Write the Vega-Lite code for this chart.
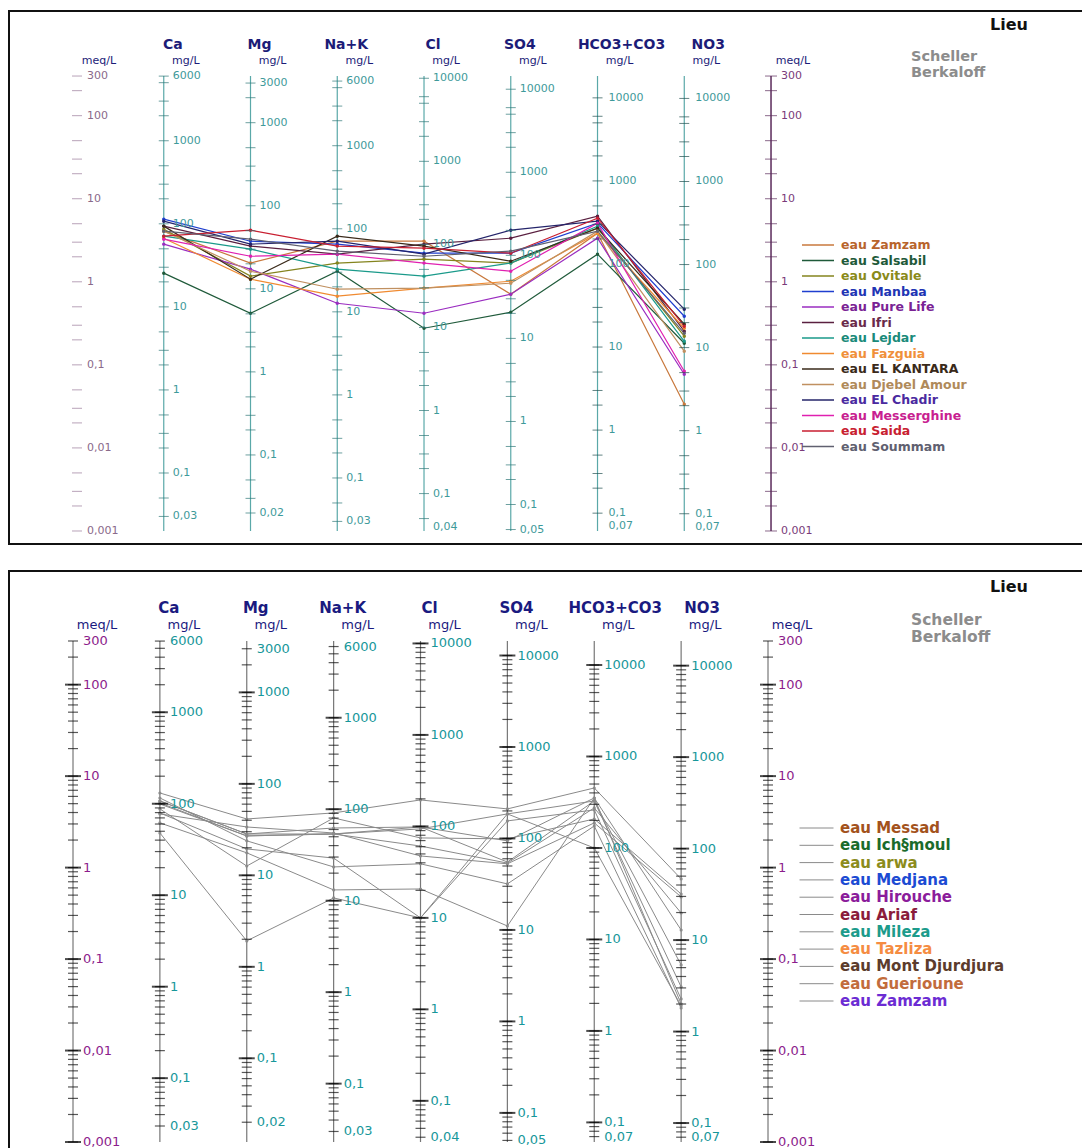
{
"$schema":"https://vega.github.io/schema/vega-lite/v6.json",
"padding":{"left":8,"top":10,"right":0,"bottom":0},
"autosize":{"type":"pad"},
"background":"white",
"spacing":27,
"bounds":"flush",
"config":{"text":{"font":"DejaVu Sans"}},
"datasets":{
"axes":[{"ax":"Ca"},{"ax":"Mg"},{"ax":"Na+K"},{"ax":"Cl"},{"ax":"SO4"},{"ax":"HCO3+CO3"},{"ax":"NO3"}],
"units":[{"ax":"meqL","t":"meq/L"},{"ax":"Ca","t":"mg/L"},{"ax":"Mg","t":"mg/L"},{"ax":"Na+K","t":"mg/L"},{"ax":"Cl","t":"mg/L"},{"ax":"SO4","t":"mg/L"},{"ax":"HCO3+CO3","t":"mg/L"},{"ax":"NO3","t":"mg/L"},{"ax":"meqR","t":"meq/L"}],
"tT":[{"v":0.001},{"v":0.002},{"v":0.003},{"v":0.005},{"v":0.01},{"v":0.02},{"v":0.03},{"v":0.05},{"v":0.1},{"v":0.2},{"v":0.3},{"v":0.5},{"v":1},{"v":2},{"v":3},{"v":5},{"v":10},{"v":20},{"v":30},{"v":50},{"v":100},{"v":200},{"v":300},{"v":500},{"v":1000},{"v":2000},{"v":3000},{"v":5000},{"v":6000},{"v":10000}],
"tB":[{"v":0.001},{"v":0.002},{"v":0.003},{"v":0.004},{"v":0.005},{"v":0.006},{"v":0.007},{"v":0.008},{"v":0.009},{"v":0.01},{"v":0.02},{"v":0.03},{"v":0.04},{"v":0.05},{"v":0.06},{"v":0.07},{"v":0.08},{"v":0.09},{"v":0.1},{"v":0.2},{"v":0.3},{"v":0.4},{"v":0.5},{"v":0.6},{"v":0.7},{"v":0.8},{"v":0.9},{"v":1},{"v":2},{"v":3},{"v":4},{"v":5},{"v":6},{"v":7},{"v":8},{"v":9},{"v":10},{"v":20},{"v":30},{"v":40},{"v":50},{"v":60},{"v":70},{"v":80},{"v":90},{"v":100},{"v":200},{"v":300},{"v":400},{"v":500},{"v":600},{"v":700},{"v":800},{"v":900},{"v":1000},{"v":2000},{"v":3000},{"v":4000},{"v":5000},{"v":6000},{"v":7000},{"v":8000},{"v":9000},{"v":10000}],
"tD":[{"v":0.001},{"v":0.01},{"v":0.1},{"v":1},{"v":10},{"v":100},{"v":1000},{"v":10000}],
"lab":[
{"ax":"meq","v":300,"t":"300"},{"ax":"meq","v":100,"t":"100"},{"ax":"meq","v":10,"t":"10"},{"ax":"meq","v":1,"t":"1"},{"ax":"meq","v":0.1,"t":"0,1"},{"ax":"meq","v":0.01,"t":"0,01"},{"ax":"meq","v":0.001,"t":"0,001"},
{"ax":"Ca","v":6000,"t":"6000"},{"ax":"Ca","v":1000,"t":"1000"},{"ax":"Ca","v":100,"t":"100"},{"ax":"Ca","v":10,"t":"10"},{"ax":"Ca","v":1,"t":"1"},{"ax":"Ca","v":0.1,"t":"0,1"},{"ax":"Ca","v":0.03,"t":"0,03"},
{"ax":"Mg","v":3000,"t":"3000"},{"ax":"Mg","v":1000,"t":"1000"},{"ax":"Mg","v":100,"t":"100"},{"ax":"Mg","v":10,"t":"10"},{"ax":"Mg","v":1,"t":"1"},{"ax":"Mg","v":0.1,"t":"0,1"},{"ax":"Mg","v":0.02,"t":"0,02"},
{"ax":"Na+K","v":6000,"t":"6000"},{"ax":"Na+K","v":1000,"t":"1000"},{"ax":"Na+K","v":100,"t":"100"},{"ax":"Na+K","v":10,"t":"10"},{"ax":"Na+K","v":1,"t":"1"},{"ax":"Na+K","v":0.1,"t":"0,1"},{"ax":"Na+K","v":0.03,"t":"0,03"},
{"ax":"Cl","v":10000,"t":"10000"},{"ax":"Cl","v":1000,"t":"1000"},{"ax":"Cl","v":100,"t":"100"},{"ax":"Cl","v":10,"t":"10"},{"ax":"Cl","v":1,"t":"1"},{"ax":"Cl","v":0.1,"t":"0,1"},{"ax":"Cl","v":0.04,"t":"0,04"},
{"ax":"SO4","v":10000,"t":"10000"},{"ax":"SO4","v":1000,"t":"1000"},{"ax":"SO4","v":100,"t":"100"},{"ax":"SO4","v":10,"t":"10"},{"ax":"SO4","v":1,"t":"1"},{"ax":"SO4","v":0.1,"t":"0,1"},{"ax":"SO4","v":0.05,"t":"0,05"},
{"ax":"HCO3+CO3","v":10000,"t":"10000"},{"ax":"HCO3+CO3","v":1000,"t":"1000"},{"ax":"HCO3+CO3","v":100,"t":"100"},{"ax":"HCO3+CO3","v":10,"t":"10"},{"ax":"HCO3+CO3","v":1,"t":"1"},{"ax":"HCO3+CO3","v":0.1,"t":"0,1"},{"ax":"HCO3+CO3","v":0.07,"t":"0,07"},
{"ax":"NO3","v":10000,"t":"10000"},{"ax":"NO3","v":1000,"t":"1000"},{"ax":"NO3","v":100,"t":"100"},{"ax":"NO3","v":10,"t":"10"},{"ax":"NO3","v":1,"t":"1"},{"ax":"NO3","v":0.1,"t":"0,1"},{"ax":"NO3","v":0.07,"t":"0,07"}],
"top":[
{"s":"eau Zamzam","ax":"Ca","v":4.07},{"s":"eau Zamzam","ax":"Mg","v":1.68},{"s":"eau Zamzam","ax":"Na+K","v":3.08},{"s":"eau Zamzam","ax":"Cl","v":3.08},{"s":"eau Zamzam","ax":"SO4","v":0.709},{"s":"eau Zamzam","ax":"HCO3+CO3","v":3.85},{"s":"eau Zamzam","ax":"NO3","v":0.0335},
{"s":"eau Salsabil","ax":"Ca","v":1.27},{"s":"eau Salsabil","ax":"Mg","v":0.418},{"s":"eau Salsabil","ax":"Na+K","v":1.34},{"s":"eau Salsabil","ax":"Cl","v":0.276},{"s":"eau Salsabil","ax":"SO4","v":0.43},{"s":"eau Salsabil","ax":"HCO3+CO3","v":2.15},{"s":"eau Salsabil","ax":"NO3","v":0.182},
{"s":"eau Ovitale","ax":"Ca","v":4.3},{"s":"eau Ovitale","ax":"Mg","v":1.17},{"s":"eau Ovitale","ax":"Na+K","v":1.68},{"s":"eau Ovitale","ax":"Cl","v":1.87},{"s":"eau Ovitale","ax":"SO4","v":1.68},{"s":"eau Ovitale","ax":"HCO3+CO3","v":4.42},{"s":"eau Ovitale","ax":"NO3","v":0.221},
{"s":"eau Manbaa","ax":"Ca","v":5.68},{"s":"eau Manbaa","ax":"Mg","v":3.08},{"s":"eau Manbaa","ax":"Na+K","v":2.84},{"s":"eau Manbaa","ax":"Cl","v":2.21},{"s":"eau Manbaa","ax":"SO4","v":2.21},{"s":"eau Manbaa","ax":"HCO3+CO3","v":5.08},{"s":"eau Manbaa","ax":"NO3","v":0.385},
{"s":"eau Pure Life","ax":"Ca","v":2.84},{"s":"eau Pure Life","ax":"Mg","v":1.42},{"s":"eau Pure Life","ax":"Na+K","v":0.552},{"s":"eau Pure Life","ax":"Cl","v":0.418},{"s":"eau Pure Life","ax":"SO4","v":0.709},{"s":"eau Pure Life","ax":"HCO3+CO3","v":3.35},{"s":"eau Pure Life","ax":"NO3","v":0.077},
{"s":"eau Ifri","ax":"Ca","v":4.68},{"s":"eau Ifri","ax":"Mg","v":2.69},{"s":"eau Ifri","ax":"Na+K","v":2.15},{"s":"eau Ifri","ax":"Cl","v":2.84},{"s":"eau Ifri","ax":"SO4","v":3.35},{"s":"eau Ifri","ax":"HCO3+CO3","v":6.17},{"s":"eau Ifri","ax":"NO3","v":0.254},
{"s":"eau Lejdar","ax":"Ca","v":3.54},{"s":"eau Lejdar","ax":"Mg","v":2.47},{"s":"eau Lejdar","ax":"Na+K","v":1.42},{"s":"eau Lejdar","ax":"Cl","v":1.17},{"s":"eau Lejdar","ax":"SO4","v":1.68},{"s":"eau Lejdar","ax":"HCO3+CO3","v":4.68},{"s":"eau Lejdar","ax":"NO3","v":0.192},
{"s":"eau Fazguia","ax":"Ca","v":3.35},{"s":"eau Fazguia","ax":"Mg","v":1.075},{"s":"eau Fazguia","ax":"Na+K","v":0.671},{"s":"eau Fazguia","ax":"Cl","v":0.837},{"s":"eau Fazguia","ax":"SO4","v":1.017},{"s":"eau Fazguia","ax":"HCO3+CO3","v":3.85},{"s":"eau Fazguia","ax":"NO3","v":0.276},
{"s":"eau EL KANTARA","ax":"Ca","v":4.68},{"s":"eau EL KANTARA","ax":"Mg","v":1.075},{"s":"eau EL KANTARA","ax":"Na+K","v":3.54},{"s":"eau EL KANTARA","ax":"Cl","v":2.69},{"s":"eau EL KANTARA","ax":"SO4","v":1.77},{"s":"eau EL KANTARA","ax":"HCO3+CO3","v":4.42},{"s":"eau EL KANTARA","ax":"NO3","v":0.308},
{"s":"eau Djebel Amour","ax":"Ca","v":4.07},{"s":"eau Djebel Amour","ax":"Mg","v":1.34},{"s":"eau Djebel Amour","ax":"Na+K","v":0.814},{"s":"eau Djebel Amour","ax":"Cl","v":0.837},{"s":"eau Djebel Amour","ax":"SO4","v":0.962},{"s":"eau Djebel Amour","ax":"HCO3+CO3","v":4.07},{"s":"eau Djebel Amour","ax":"NO3","v":0.146},
{"s":"eau EL Chadir","ax":"Ca","v":5.37},{"s":"eau EL Chadir","ax":"Mg","v":2.84},{"s":"eau EL Chadir","ax":"Na+K","v":3.08},{"s":"eau EL Chadir","ax":"Cl","v":2.15},{"s":"eau EL Chadir","ax":"SO4","v":4.18},{"s":"eau EL Chadir","ax":"HCO3+CO3","v":5.37},{"s":"eau EL Chadir","ax":"NO3","v":0.468},
{"s":"eau Messerghine","ax":"Ca","v":3.26},{"s":"eau Messerghine","ax":"Mg","v":2.03},{"s":"eau Messerghine","ax":"Na+K","v":2.15},{"s":"eau Messerghine","ax":"Cl","v":1.68},{"s":"eau Messerghine","ax":"SO4","v":1.34},{"s":"eau Messerghine","ax":"HCO3+CO3","v":5.08},{"s":"eau Messerghine","ax":"NO3","v":0.0837},
{"s":"eau Saida","ax":"Ca","v":3.54},{"s":"eau Saida","ax":"Mg","v":4.18},{"s":"eau Saida","ax":"Na+K","v":2.69},{"s":"eau Saida","ax":"Cl","v":2.54},{"s":"eau Saida","ax":"SO4","v":2.21},{"s":"eau Saida","ax":"HCO3+CO3","v":5.84},{"s":"eau Saida","ax":"NO3","v":0.292},
{"s":"eau Soummam","ax":"Ca","v":4.07},{"s":"eau Soummam","ax":"Mg","v":3.26},{"s":"eau Soummam","ax":"Na+K","v":2.34},{"s":"eau Soummam","ax":"Cl","v":2.03},{"s":"eau Soummam","ax":"SO4","v":2.34},{"s":"eau Soummam","ax":"HCO3+CO3","v":4.07},{"s":"eau Soummam","ax":"NO3","v":0.24}],
"bot":[
{"s":"eau Messad","ax":"Ca","v":6.54},{"s":"eau Messad","ax":"Mg","v":3.4},{"s":"eau Messad","ax":"Na+K","v":3.96},{"s":"eau Messad","ax":"Cl","v":5.49},{"s":"eau Messad","ax":"SO4","v":4.38},{"s":"eau Messad","ax":"HCO3+CO3","v":7.42},{"s":"eau Messad","ax":"NO3","v":0.752},
{"s":"eau Ich§moul","ax":"Ca","v":2.39},{"s":"eau Ich§moul","ax":"Mg","v":0.158},{"s":"eau Ich§moul","ax":"Na+K","v":0.466},{"s":"eau Ich§moul","ax":"Cl","v":0.282},{"s":"eau Ich§moul","ax":"SO4","v":3.86},{"s":"eau Ich§moul","ax":"HCO3+CO3","v":5.35},{"s":"eau Ich§moul","ax":"NO3","v":0.0863},
{"s":"eau arwa","ax":"Ca","v":5.35},{"s":"eau arwa","ax":"Mg","v":2.33},{"s":"eau arwa","ax":"Na+K","v":2.71},{"s":"eau arwa","ax":"Cl","v":2.78},{"s":"eau arwa","ax":"SO4","v":1.96},{"s":"eau arwa","ax":"HCO3+CO3","v":5.77},{"s":"eau arwa","ax":"NO3","v":0.208},
{"s":"eau Medjana","ax":"Ca","v":4.96},{"s":"eau Medjana","ax":"Mg","v":2.22},{"s":"eau Medjana","ax":"Na+K","v":2.33},{"s":"eau Medjana","ax":"Cl","v":1.72},{"s":"eau Medjana","ax":"SO4","v":1.12},{"s":"eau Medjana","ax":"HCO3+CO3","v":4.49},{"s":"eau Medjana","ax":"NO3","v":0.319},
{"s":"eau Hirouche","ax":"Ca","v":4.38},{"s":"eau Hirouche","ax":"Mg","v":1.04},{"s":"eau Hirouche","ax":"Na+K","v":3.49},{"s":"eau Hirouche","ax":"Cl","v":2.11},{"s":"eau Hirouche","ax":"SO4","v":2.06},{"s":"eau Hirouche","ax":"HCO3+CO3","v":3.4},{"s":"eau Hirouche","ax":"NO3","v":0.515},
{"s":"eau  Ariaf","ax":"Ca","v":3.96},{"s":"eau  Ariaf","ax":"Mg","v":1.6},{"s":"eau  Ariaf","ax":"Na+K","v":1.27},{"s":"eau  Ariaf","ax":"Cl","v":0.282},{"s":"eau  Ariaf","ax":"SO4","v":3.24},{"s":"eau  Ariaf","ax":"HCO3+CO3","v":4.27},{"s":"eau  Ariaf","ax":"NO3","v":0.0367},
{"s":"eau Mileza","ax":"Ca","v":3.86},{"s":"eau Mileza","ax":"Mg","v":2.78},{"s":"eau Mileza","ax":"Na+K","v":2.39},{"s":"eau Mileza","ax":"Cl","v":1.34},{"s":"eau Mileza","ax":"SO4","v":1.1},{"s":"eau Mileza","ax":"HCO3+CO3","v":3.08},{"s":"eau Mileza","ax":"NO3","v":0.478},
{"s":"eau Tazliza","ax":"Ca","v":5.77},{"s":"eau Tazliza","ax":"Mg","v":1.96},{"s":"eau Tazliza","ax":"Na+K","v":1.017},{"s":"eau Tazliza","ax":"Cl","v":1.1},{"s":"eau Tazliza","ax":"SO4","v":0.663},{"s":"eau Tazliza","ax":"HCO3+CO3","v":2.85},{"s":"eau Tazliza","ax":"NO3","v":0.0292},
{"s":"eau Mont Djurdjura","ax":"Ca","v":5.09},{"s":"eau Mont Djurdjura","ax":"Mg","v":2.22},{"s":"eau Mont Djurdjura","ax":"Na+K","v":2.33},{"s":"eau Mont Djurdjura","ax":"Cl","v":2.78},{"s":"eau Mont Djurdjura","ax":"SO4","v":1.15},{"s":"eau Mont Djurdjura","ax":"HCO3+CO3","v":5.35},{"s":"eau Mont Djurdjura","ax":"NO3","v":0.0496},
{"s":"eau Guerioune","ax":"Ca","v":3.08},{"s":"eau Guerioune","ax":"Mg","v":1.45},{"s":"eau Guerioune","ax":"Na+K","v":0.57},{"s":"eau Guerioune","ax":"Cl","v":0.584},{"s":"eau Guerioune","ax":"SO4","v":0.23},{"s":"eau Guerioune","ax":"HCO3+CO3","v":5.77},{"s":"eau Guerioune","ax":"NO3","v":0.0324},
{"s":"eau Zamzam","ax":"Ca","v":5.35},{"s":"eau Zamzam","ax":"Mg","v":2.33},{"s":"eau Zamzam","ax":"Na+K","v":2.33},{"s":"eau Zamzam","ax":"Cl","v":2.65},{"s":"eau Zamzam","ax":"SO4","v":3.86},{"s":"eau Zamzam","ax":"HCO3+CO3","v":1.64},{"s":"eau Zamzam","ax":"NO3","v":0.0308}]
},
"resolve":{"scale":{"color":"independent","x":"independent","y":"independent"},"legend":{"color":"independent"}},
"vconcat":[
{
"width":1074,"height":533,
"view":{"stroke":"#111","strokeWidth":2},
"resolve":{"scale":{"y":"independent"}},
"layer":[
{"layer":[
{"data":{"name":"axes"},"mark":{"type":"rule","color":"#5aa8a8","strokeWidth":1.2},"encoding":{"x":{"field":"ax","type":"ordinal","axis":null,"scale":{"type":"point","domain":["meqL","Ca","Mg","Na+K","Cl","SO4","HCO3+CO3","NO3","meqR","r1","r2","r3"],"padding":0.69,"align":0.568}},"y":{"datum":300,"type":"quantitative","axis":null,"scale":{"type":"log","domain":[0.000697,1820],"nice":false}},"y2":{"datum":0.001}}},
{"data":{"values":[{"ax":"meqR"}]},"mark":{"type":"rule","color":"#5a2a5a","strokeWidth":1.5},"encoding":{"x":{"field":"ax","type":"ordinal","axis":null,"scale":{"type":"point","domain":["meqL","Ca","Mg","Na+K","Cl","SO4","HCO3+CO3","NO3","meqR","r1","r2","r3"],"padding":0.69,"align":0.568}},"y":{"datum":300,"type":"quantitative","axis":null,"scale":{"type":"log","domain":[0.000697,1820],"nice":false}},"y2":{"datum":0.001}}},
{"data":{"name":"tT"},"transform":[{"filter":{"field":"v","range":[0.001,300]}}],"mark":{"type":"tick","orient":"horizontal","color":"#9a7a9a","size":10,"thickness":1},"encoding":{"x":{"datum":"meqL","type":"ordinal","axis":null,"scale":{"type":"point","domain":["meqL","Ca","Mg","Na+K","Cl","SO4","HCO3+CO3","NO3","meqR","r1","r2","r3"],"padding":0.69,"align":0.568}},"y":{"field":"v","type":"quantitative","axis":null,"scale":{"type":"log","domain":[0.000697,1820],"nice":false}}}},
{"data":{"name":"tT"},"transform":[{"filter":{"field":"v","range":[0.001,300]}}],"mark":{"type":"tick","orient":"horizontal","color":"#5a2a5a","size":12,"thickness":1},"encoding":{"x":{"datum":"meqR","type":"ordinal","axis":null,"scale":{"type":"point","domain":["meqL","Ca","Mg","Na+K","Cl","SO4","HCO3+CO3","NO3","meqR","r1","r2","r3"],"padding":0.69,"align":0.568}},"y":{"field":"v","type":"quantitative","axis":null,"scale":{"type":"log","domain":[0.000697,1820],"nice":false}}}},
{"data":{"name":"lab"},"transform":[{"filter":"datum.ax=='meq'"}],"mark":{"type":"text","align":"left","baseline":"middle","dx":10,"fontSize":11,"color":"#8a6a8a"},"encoding":{"x":{"datum":"meqL","type":"ordinal","axis":null,"scale":{"type":"point","domain":["meqL","Ca","Mg","Na+K","Cl","SO4","HCO3+CO3","NO3","meqR","r1","r2","r3"],"padding":0.69,"align":0.568}},"y":{"field":"v","type":"quantitative","axis":null,"scale":{"type":"log","domain":[0.000697,1820],"nice":false}},"text":{"field":"t"}}},
{"data":{"name":"lab"},"transform":[{"filter":"datum.ax=='meq'"}],"mark":{"type":"text","align":"left","baseline":"middle","dx":10,"fontSize":11,"color":"#7a3a7a"},"encoding":{"x":{"datum":"meqR","type":"ordinal","axis":null,"scale":{"type":"point","domain":["meqL","Ca","Mg","Na+K","Cl","SO4","HCO3+CO3","NO3","meqR","r1","r2","r3"],"padding":0.69,"align":0.568}},"y":{"field":"v","type":"quantitative","axis":null,"scale":{"type":"log","domain":[0.000697,1820],"nice":false}},"text":{"field":"t"}}},
{"data":{"name":"axes"},"transform":[{"filter":"datum.ax!='HCO3+CO3' && datum.ax!='NO3'"}],"mark":{"type":"text","align":"center","baseline":"middle","dx":9,"fontSize":14,"fontWeight":"bold","color":"#1c1c78"},"encoding":{"x":{"field":"ax","type":"ordinal","axis":null,"scale":{"type":"point","domain":["meqL","Ca","Mg","Na+K","Cl","SO4","HCO3+CO3","NO3","meqR","r1","r2","r3"],"padding":0.69,"align":0.568}},"y":{"datum":709,"type":"quantitative","axis":null,"scale":{"type":"log","domain":[0.000697,1820],"nice":false}},"text":{"field":"ax"}}},
{"data":{"name":"axes"},"transform":[{"filter":"datum.ax=='HCO3+CO3' || datum.ax=='NO3'"}],"mark":{"type":"text","align":"center","baseline":"middle","dx":24,"fontSize":14,"fontWeight":"bold","color":"#1c1c78"},"encoding":{"x":{"field":"ax","type":"ordinal","axis":null,"scale":{"type":"point","domain":["meqL","Ca","Mg","Na+K","Cl","SO4","HCO3+CO3","NO3","meqR","r1","r2","r3"],"padding":0.69,"align":0.568}},"y":{"datum":709,"type":"quantitative","axis":null,"scale":{"type":"log","domain":[0.000697,1820],"nice":false}},"text":{"field":"ax"}}},
{"data":{"name":"units"},"mark":{"type":"text","align":"center","baseline":"middle","dx":22,"fontSize":11,"color":"#1c1c78"},"encoding":{"x":{"field":"ax","type":"ordinal","axis":null,"scale":{"type":"point","domain":["meqL","Ca","Mg","Na+K","Cl","SO4","HCO3+CO3","NO3","meqR","r1","r2","r3"],"padding":0.69,"align":0.568}},"y":{"datum":455,"type":"quantitative","axis":null,"scale":{"type":"log","domain":[0.000697,1820],"nice":false}},"text":{"field":"t"}}},
{"data":{"values":[{"ax":"meqR"}]},"mark":{"type":"text","text":"Lieu","align":"center","baseline":"middle","dx":238,"fontSize":16,"fontWeight":"bold","color":"#111111"},"encoding":{"x":{"field":"ax","type":"ordinal","axis":null,"scale":{"type":"point","domain":["meqL","Ca","Mg","Na+K","Cl","SO4","HCO3+CO3","NO3","meqR","r1","r2","r3"],"padding":0.69,"align":0.568}},"y":{"datum":1234,"type":"quantitative","axis":null,"scale":{"type":"log","domain":[0.000697,1820],"nice":false}}}},
{"data":{"values":[{"ax":"meqR"}]},"mark":{"type":"text","text":["Scheller","Berkaloff"],"lineHeight":16,"align":"left","baseline":"top","dx":140,"fontSize":14.5,"fontWeight":"bold","color":"#8c8c8c"},"encoding":{"x":{"field":"ax","type":"ordinal","axis":null,"scale":{"type":"point","domain":["meqL","Ca","Mg","Na+K","Cl","SO4","HCO3+CO3","NO3","meqR","r1","r2","r3"],"padding":0.69,"align":0.568}},"y":{"datum":620,"type":"quantitative","axis":null,"scale":{"type":"log","domain":[0.000697,1820],"nice":false}}}},
{"data":{"name":"top"},"mark":{"type":"line","strokeWidth":1.2,"point":{"size":12,"filled":true}},"encoding":{"x":{"field":"ax","type":"ordinal","axis":null,"scale":{"type":"point","domain":["meqL","Ca","Mg","Na+K","Cl","SO4","HCO3+CO3","NO3","meqR","r1","r2","r3"],"padding":0.69,"align":0.568}},"y":{"field":"v","type":"quantitative","axis":null,"scale":{"type":"log","domain":[0.000697,1820],"nice":false}},"order":{"value":null},"color":{"field":"s","type":"nominal","scale":{"domain":["eau Zamzam","eau Salsabil","eau Ovitale","eau Manbaa","eau Pure Life","eau Ifri","eau Lejdar","eau Fazguia","eau EL KANTARA","eau Djebel Amour","eau EL Chadir","eau Messerghine","eau Saida","eau Soummam"],"range":["#c8783c","#1f5a3a","#84841e","#1f3fcf","#9a2cc0","#5a2040","#1a9a8a","#f08a30","#3a2a1a","#c09060","#24246a","#e020b0","#c81e30","#606070"]},"legend":{"orient":"none","legendX":792,"legendY":228,"title":null,"padding":0,"symbolType":"stroke","symbolSize":1024,"symbolStrokeWidth":1.5,"clipHeight":12,"rowPadding":2.5,"labelOffset":6,"labelFont":"DejaVu Sans","labelFontWeight":"bold","labelFontSize":12.5,"labelLimit":400,"labelColor":{"expr":"['#b8642c','#1f5a3a','#8a8a1a','#2034b4','#7a2294','#6a2a4a','#1a8a7a','#f0903a','#3a2a1a','#b08a5a','#4a2aa0','#c82090','#c82030','#606070'][indexof(['eau Zamzam','eau Salsabil','eau Ovitale','eau Manbaa','eau Pure Life','eau Ifri','eau Lejdar','eau Fazguia','eau EL KANTARA','eau Djebel Amour','eau EL Chadir','eau Messerghine','eau Saida','eau Soummam'], datum.value)]"}}}}}
]},
{"encoding":{"x":{"datum":"Ca","type":"ordinal","axis":null,"scale":{"type":"point","domain":["meqL","Ca","Mg","Na+K","Cl","SO4","HCO3+CO3","NO3","meqR","r1","r2","r3"],"padding":0.69,"align":0.568}},"y":{"field":"v","type":"quantitative","axis":null,"scale":{"type":"log","domain":[0.01397,36473],"nice":false}}},"layer":[
{"data":{"name":"tT"},"transform":[{"filter":{"field":"v","range":[0.03,6000]}}],"mark":{"type":"tick","orient":"horizontal","color":"#2f7878","size":10,"thickness":1}},
{"data":{"name":"lab"},"transform":[{"filter":"datum.ax=='Ca'"}],"mark":{"type":"text","align":"left","baseline":"middle","dx":9,"fontSize":11,"color":"#3e9a9a"},"encoding":{"text":{"field":"t"}}}]},
{"encoding":{"x":{"datum":"Mg","type":"ordinal","axis":null,"scale":{"type":"point","domain":["meqL","Ca","Mg","Na+K","Cl","SO4","HCO3+CO3","NO3","meqR","r1","r2","r3"],"padding":0.69,"align":0.568}},"y":{"field":"v","type":"quantitative","axis":null,"scale":{"type":"log","domain":[0.008469,22113],"nice":false}}},"layer":[
{"data":{"name":"tT"},"transform":[{"filter":{"field":"v","range":[0.02,3000]}}],"mark":{"type":"tick","orient":"horizontal","color":"#2f7878","size":10,"thickness":1}},
{"data":{"name":"lab"},"transform":[{"filter":"datum.ax=='Mg'"}],"mark":{"type":"text","align":"left","baseline":"middle","dx":9,"fontSize":11,"color":"#3e9a9a"},"encoding":{"text":{"field":"t"}}}]},
{"encoding":{"x":{"datum":"Na+K","type":"ordinal","axis":null,"scale":{"type":"point","domain":["meqL","Ca","Mg","Na+K","Cl","SO4","HCO3+CO3","NO3","meqR","r1","r2","r3"],"padding":0.69,"align":0.568}},"y":{"field":"v","type":"quantitative","axis":null,"scale":{"type":"log","domain":[0.01603,41860],"nice":false}}},"layer":[
{"data":{"name":"tT"},"transform":[{"filter":{"field":"v","range":[0.03,6000]}}],"mark":{"type":"tick","orient":"horizontal","color":"#2f7878","size":10,"thickness":1}},
{"data":{"name":"lab"},"transform":[{"filter":"datum.ax=='Na+K'"}],"mark":{"type":"text","align":"left","baseline":"middle","dx":9,"fontSize":11,"color":"#3e9a9a"},"encoding":{"text":{"field":"t"}}}]},
{"encoding":{"x":{"datum":"Cl","type":"ordinal","axis":null,"scale":{"type":"point","domain":["meqL","Ca","Mg","Na+K","Cl","SO4","HCO3+CO3","NO3","meqR","r1","r2","r3"],"padding":0.69,"align":0.568}},"y":{"field":"v","type":"quantitative","axis":null,"scale":{"type":"log","domain":[0.02471,64519],"nice":false}}},"layer":[
{"data":{"name":"tT"},"transform":[{"filter":{"field":"v","range":[0.04,10000]}}],"mark":{"type":"tick","orient":"horizontal","color":"#2f7878","size":10,"thickness":1}},
{"data":{"name":"lab"},"transform":[{"filter":"datum.ax=='Cl'"}],"mark":{"type":"text","align":"left","baseline":"middle","dx":9,"fontSize":11,"color":"#3e9a9a"},"encoding":{"text":{"field":"t"}}}]},
{"encoding":{"x":{"datum":"SO4","type":"ordinal","axis":null,"scale":{"type":"point","domain":["meqL","Ca","Mg","Na+K","Cl","SO4","HCO3+CO3","NO3","meqR","r1","r2","r3"],"padding":0.69,"align":0.568}},"y":{"field":"v","type":"quantitative","axis":null,"scale":{"type":"log","domain":[0.03348,87415],"nice":false}}},"layer":[
{"data":{"name":"tT"},"transform":[{"filter":{"field":"v","range":[0.05,10000]}}],"mark":{"type":"tick","orient":"horizontal","color":"#2f7878","size":10,"thickness":1}},
{"data":{"name":"lab"},"transform":[{"filter":"datum.ax=='SO4'"}],"mark":{"type":"text","align":"left","baseline":"middle","dx":9,"fontSize":11,"color":"#3e9a9a"},"encoding":{"text":{"field":"t"}}}]},
{"encoding":{"x":{"datum":"HCO3+CO3","type":"ordinal","axis":null,"scale":{"type":"point","domain":["meqL","Ca","Mg","Na+K","Cl","SO4","HCO3+CO3","NO3","meqR","r1","r2","r3"],"padding":0.69,"align":0.568}},"y":{"field":"v","type":"quantitative","axis":null,"scale":{"type":"log","domain":[0.04253,111056],"nice":false}}},"layer":[
{"data":{"name":"tT"},"transform":[{"filter":{"field":"v","range":[0.07,10000]}}],"mark":{"type":"tick","orient":"horizontal","color":"#1f4f4f","size":10,"thickness":1}},
{"data":{"name":"lab"},"transform":[{"filter":"datum.ax=='HCO3+CO3'"}],"mark":{"type":"text","align":"left","baseline":"middle","dx":11,"fontSize":11,"color":"#3e9a9a"},"encoding":{"text":{"field":"t"}}}]},
{"encoding":{"x":{"datum":"NO3","type":"ordinal","axis":null,"scale":{"type":"point","domain":["meqL","Ca","Mg","Na+K","Cl","SO4","HCO3+CO3","NO3","meqR","r1","r2","r3"],"padding":0.69,"align":0.568}},"y":{"field":"v","type":"quantitative","axis":null,"scale":{"type":"log","domain":[0.04321,112840],"nice":false}}},"layer":[
{"data":{"name":"tT"},"transform":[{"filter":{"field":"v","range":[0.07,10000]}}],"mark":{"type":"tick","orient":"horizontal","color":"#1f4f4f","size":10,"thickness":1}},
{"data":{"name":"lab"},"transform":[{"filter":"datum.ax=='NO3'"}],"mark":{"type":"text","align":"left","baseline":"middle","dx":11,"fontSize":11,"color":"#3e9a9a"},"encoding":{"text":{"field":"t"}}}]}
]
},
{
"width":1074,"height":578,
"view":{"stroke":"#111","strokeWidth":2},
"resolve":{"scale":{"y":"independent"}},
"layer":[
{"layer":[
{"data":{"name":"axes"},"mark":{"type":"rule","color":"#777777","strokeWidth":1.2},"encoding":{"x":{"field":"ax","type":"ordinal","axis":null,"scale":{"type":"point","domain":["meqL","Ca","Mg","Na+K","Cl","SO4","HCO3+CO3","NO3","meqR","r1","r2","r3"],"padding":0.6813,"align":0.5407}},"y":{"datum":300,"type":"quantitative","axis":null,"scale":{"type":"log","domain":[0.000839,1746.9],"nice":false}},"y2":{"datum":0.001}}},
{"data":{"values":[{"ax":"meqL"},{"ax":"meqR"}]},"mark":{"type":"rule","color":"#777777","strokeWidth":1.2},"encoding":{"x":{"field":"ax","type":"ordinal","axis":null,"scale":{"type":"point","domain":["meqL","Ca","Mg","Na+K","Cl","SO4","HCO3+CO3","NO3","meqR","r1","r2","r3"],"padding":0.6813,"align":0.5407}},"y":{"datum":300,"type":"quantitative","axis":null,"scale":{"type":"log","domain":[0.000839,1746.9],"nice":false}},"y2":{"datum":0.001}}},
{"data":{"name":"tB"},"transform":[{"filter":{"field":"v","range":[0.001,300]}}],"mark":{"type":"tick","orient":"horizontal","color":"#111111","size":10,"thickness":1.2},"encoding":{"x":{"datum":"meqL","type":"ordinal","axis":null,"scale":{"type":"point","domain":["meqL","Ca","Mg","Na+K","Cl","SO4","HCO3+CO3","NO3","meqR","r1","r2","r3"],"padding":0.6813,"align":0.5407}},"y":{"field":"v","type":"quantitative","axis":null,"scale":{"type":"log","domain":[0.000839,1746.9],"nice":false}}}},
{"data":{"name":"tD"},"transform":[{"filter":{"field":"v","range":[0.001,300]}}],"mark":{"type":"tick","orient":"horizontal","color":"#000000","size":16,"thickness":2},"encoding":{"x":{"datum":"meqL","type":"ordinal","axis":null,"scale":{"type":"point","domain":["meqL","Ca","Mg","Na+K","Cl","SO4","HCO3+CO3","NO3","meqR","r1","r2","r3"],"padding":0.6813,"align":0.5407}},"y":{"field":"v","type":"quantitative","axis":null,"scale":{"type":"log","domain":[0.000839,1746.9],"nice":false}}}},
{"data":{"name":"tB"},"transform":[{"filter":{"field":"v","range":[0.001,300]}}],"mark":{"type":"tick","orient":"horizontal","color":"#111111","size":10,"thickness":1.2},"encoding":{"x":{"datum":"meqR","type":"ordinal","axis":null,"scale":{"type":"point","domain":["meqL","Ca","Mg","Na+K","Cl","SO4","HCO3+CO3","NO3","meqR","r1","r2","r3"],"padding":0.6813,"align":0.5407}},"y":{"field":"v","type":"quantitative","axis":null,"scale":{"type":"log","domain":[0.000839,1746.9],"nice":false}}}},
{"data":{"name":"tD"},"transform":[{"filter":{"field":"v","range":[0.001,300]}}],"mark":{"type":"tick","orient":"horizontal","color":"#000000","size":16,"thickness":2},"encoding":{"x":{"datum":"meqR","type":"ordinal","axis":null,"scale":{"type":"point","domain":["meqL","Ca","Mg","Na+K","Cl","SO4","HCO3+CO3","NO3","meqR","r1","r2","r3"],"padding":0.6813,"align":0.5407}},"y":{"field":"v","type":"quantitative","axis":null,"scale":{"type":"log","domain":[0.000839,1746.9],"nice":false}}}},
{"data":{"name":"lab"},"transform":[{"filter":"datum.ax=='meq'"}],"mark":{"type":"text","align":"left","baseline":"middle","dx":10,"fontSize":13,"color":"#8c1d8c"},"encoding":{"x":{"datum":"meqL","type":"ordinal","axis":null,"scale":{"type":"point","domain":["meqL","Ca","Mg","Na+K","Cl","SO4","HCO3+CO3","NO3","meqR","r1","r2","r3"],"padding":0.6813,"align":0.5407}},"y":{"field":"v","type":"quantitative","axis":null,"scale":{"type":"log","domain":[0.000839,1746.9],"nice":false}},"text":{"field":"t"}}},
{"data":{"name":"lab"},"transform":[{"filter":"datum.ax=='meq'"}],"mark":{"type":"text","align":"left","baseline":"middle","dx":10,"fontSize":13,"color":"#8c1d8c"},"encoding":{"x":{"datum":"meqR","type":"ordinal","axis":null,"scale":{"type":"point","domain":["meqL","Ca","Mg","Na+K","Cl","SO4","HCO3+CO3","NO3","meqR","r1","r2","r3"],"padding":0.6813,"align":0.5407}},"y":{"field":"v","type":"quantitative","axis":null,"scale":{"type":"log","domain":[0.000839,1746.9],"nice":false}},"text":{"field":"t"}}},
{"data":{"name":"axes"},"transform":[{"filter":"datum.ax!='HCO3+CO3' && datum.ax!='NO3'"}],"mark":{"type":"text","align":"center","baseline":"middle","dx":9,"fontSize":15,"fontWeight":"bold","color":"#1a1a80"},"encoding":{"x":{"field":"ax","type":"ordinal","axis":null,"scale":{"type":"point","domain":["meqL","Ca","Mg","Na+K","Cl","SO4","HCO3+CO3","NO3","meqR","r1","r2","r3"],"padding":0.6813,"align":0.5407}},"y":{"datum":688,"type":"quantitative","axis":null,"scale":{"type":"log","domain":[0.000839,1746.9],"nice":false}},"text":{"field":"ax"}}},
{"data":{"name":"axes"},"transform":[{"filter":"datum.ax=='HCO3+CO3' || datum.ax=='NO3'"}],"mark":{"type":"text","align":"center","baseline":"middle","dx":21,"fontSize":15,"fontWeight":"bold","color":"#1a1a80"},"encoding":{"x":{"field":"ax","type":"ordinal","axis":null,"scale":{"type":"point","domain":["meqL","Ca","Mg","Na+K","Cl","SO4","HCO3+CO3","NO3","meqR","r1","r2","r3"],"padding":0.6813,"align":0.5407}},"y":{"datum":688,"type":"quantitative","axis":null,"scale":{"type":"log","domain":[0.000839,1746.9],"nice":false}},"text":{"field":"ax"}}},
{"data":{"name":"units"},"mark":{"type":"text","align":"center","baseline":"middle","dx":24,"fontSize":13,"color":"#1a1a80"},"encoding":{"x":{"field":"ax","type":"ordinal","axis":null,"scale":{"type":"point","domain":["meqL","Ca","Mg","Na+K","Cl","SO4","HCO3+CO3","NO3","meqR","r1","r2","r3"],"padding":0.6813,"align":0.5407}},"y":{"datum":449,"type":"quantitative","axis":null,"scale":{"type":"log","domain":[0.000839,1746.9],"nice":false}},"text":{"field":"t"}}},
{"data":{"values":[{"ax":"meqR"}]},"mark":{"type":"text","text":"Lieu","align":"center","baseline":"middle","dx":241,"fontSize":16,"fontWeight":"bold","color":"#111111"},"encoding":{"x":{"field":"ax","type":"ordinal","axis":null,"scale":{"type":"point","domain":["meqL","Ca","Mg","Na+K","Cl","SO4","HCO3+CO3","NO3","meqR","r1","r2","r3"],"padding":0.6813,"align":0.5407}},"y":{"datum":1167,"type":"quantitative","axis":null,"scale":{"type":"log","domain":[0.000839,1746.9],"nice":false}}}},
{"data":{"values":[{"ax":"meqR"}]},"mark":{"type":"text","text":["Scheller","Berkaloff"],"lineHeight":17,"align":"left","baseline":"top","dx":143,"fontSize":15.5,"fontWeight":"bold","color":"#8c8c8c"},"encoding":{"x":{"field":"ax","type":"ordinal","axis":null,"scale":{"type":"point","domain":["meqL","Ca","Mg","Na+K","Cl","SO4","HCO3+CO3","NO3","meqR","r1","r2","r3"],"padding":0.6813,"align":0.5407}},"y":{"datum":600,"type":"quantitative","axis":null,"scale":{"type":"log","domain":[0.000839,1746.9],"nice":false}}}},
{"data":{"name":"bot"},"mark":{"type":"line","strokeWidth":1,"point":{"size":10,"filled":true}},"encoding":{"x":{"field":"ax","type":"ordinal","axis":null,"scale":{"type":"point","domain":["meqL","Ca","Mg","Na+K","Cl","SO4","HCO3+CO3","NO3","meqR","r1","r2","r3"],"padding":0.6813,"align":0.5407}},"y":{"field":"v","type":"quantitative","axis":null,"scale":{"type":"log","domain":[0.000839,1746.9],"nice":false}},"order":{"value":null},"color":{"field":"s","type":"nominal","scale":{"domain":["eau Messad","eau Ich§moul","eau arwa","eau Medjana","eau Hirouche","eau  Ariaf","eau Mileza","eau Tazliza","eau Mont Djurdjura","eau Guerioune","eau Zamzam"],"range":["#8a8a8a","#8a8a8a","#8a8a8a","#8a8a8a","#8a8a8a","#8a8a8a","#8a8a8a","#8a8a8a","#8a8a8a","#8a8a8a","#8a8a8a"]},"legend":{"orient":"none","legendX":790,"legendY":250.5,"title":null,"padding":0,"symbolType":"stroke","symbolSize":1156,"symbolStrokeWidth":1,"clipHeight":13,"rowPadding":1.3,"labelOffset":6,"labelFont":"DejaVu Sans","labelFontWeight":"bold","labelFontSize":15,"labelLimit":400,"labelColor":{"expr":"['#a3521c','#1b6b2b','#8c8c1c','#1c4bd3','#8b1c9b','#8b1c3b','#1c9b8b','#f58c42','#5c3c2c','#c26c3c','#6c2cd3'][indexof(['eau Messad','eau Ich§moul','eau arwa','eau Medjana','eau Hirouche','eau  Ariaf','eau Mileza','eau Tazliza','eau Mont Djurdjura','eau Guerioune','eau Zamzam'], datum.value)]"}}}}}
]},
{"encoding":{"x":{"datum":"Ca","type":"ordinal","axis":null,"scale":{"type":"point","domain":["meqL","Ca","Mg","Na+K","Cl","SO4","HCO3+CO3","NO3","meqR","r1","r2","r3"],"padding":0.6813,"align":0.5407}},"y":{"field":"v","type":"quantitative","axis":null,"scale":{"type":"log","domain":[0.016814,35008],"nice":false}}},"layer":[
{"data":{"name":"tB"},"transform":[{"filter":{"field":"v","range":[0.03,6000]}}],"mark":{"type":"tick","orient":"horizontal","color":"#111111","size":10,"thickness":1.2}},
{"data":{"name":"tD"},"transform":[{"filter":{"field":"v","range":[0.03,6000]}}],"mark":{"type":"tick","orient":"horizontal","color":"#000000","size":16,"thickness":2}},
{"data":{"name":"lab"},"transform":[{"filter":"datum.ax=='Ca'"}],"mark":{"type":"text","align":"left","baseline":"middle","dx":10,"fontSize":13,"color":"#17979a"},"encoding":{"text":{"field":"t"}}}]},
{"encoding":{"x":{"datum":"Mg","type":"ordinal","axis":null,"scale":{"type":"point","domain":["meqL","Ca","Mg","Na+K","Cl","SO4","HCO3+CO3","NO3","meqR","r1","r2","r3"],"padding":0.6813,"align":0.5407}},"y":{"field":"v","type":"quantitative","axis":null,"scale":{"type":"log","domain":[0.010194,21225],"nice":false}}},"layer":[
{"data":{"name":"tB"},"transform":[{"filter":{"field":"v","range":[0.02,3000]}}],"mark":{"type":"tick","orient":"horizontal","color":"#111111","size":10,"thickness":1.2}},
{"data":{"name":"tD"},"transform":[{"filter":{"field":"v","range":[0.02,3000]}}],"mark":{"type":"tick","orient":"horizontal","color":"#000000","size":16,"thickness":2}},
{"data":{"name":"lab"},"transform":[{"filter":"datum.ax=='Mg'"}],"mark":{"type":"text","align":"left","baseline":"middle","dx":10,"fontSize":13,"color":"#17979a"},"encoding":{"text":{"field":"t"}}}]},
{"encoding":{"x":{"datum":"Na+K","type":"ordinal","axis":null,"scale":{"type":"point","domain":["meqL","Ca","Mg","Na+K","Cl","SO4","HCO3+CO3","NO3","meqR","r1","r2","r3"],"padding":0.6813,"align":0.5407}},"y":{"field":"v","type":"quantitative","axis":null,"scale":{"type":"log","domain":[0.019297,40179],"nice":false}}},"layer":[
{"data":{"name":"tB"},"transform":[{"filter":{"field":"v","range":[0.03,6000]}}],"mark":{"type":"tick","orient":"horizontal","color":"#111111","size":10,"thickness":1.2}},
{"data":{"name":"tD"},"transform":[{"filter":{"field":"v","range":[0.03,6000]}}],"mark":{"type":"tick","orient":"horizontal","color":"#000000","size":16,"thickness":2}},
{"data":{"name":"lab"},"transform":[{"filter":"datum.ax=='Na+K'"}],"mark":{"type":"text","align":"left","baseline":"middle","dx":10,"fontSize":13,"color":"#17979a"},"encoding":{"text":{"field":"t"}}}]},
{"encoding":{"x":{"datum":"Cl","type":"ordinal","axis":null,"scale":{"type":"point","domain":["meqL","Ca","Mg","Na+K","Cl","SO4","HCO3+CO3","NO3","meqR","r1","r2","r3"],"padding":0.6813,"align":0.5407}},"y":{"field":"v","type":"quantitative","axis":null,"scale":{"type":"log","domain":[0.029743,61928],"nice":false}}},"layer":[
{"data":{"name":"tB"},"transform":[{"filter":{"field":"v","range":[0.04,10000]}}],"mark":{"type":"tick","orient":"horizontal","color":"#111111","size":10,"thickness":1.2}},
{"data":{"name":"tD"},"transform":[{"filter":{"field":"v","range":[0.04,10000]}}],"mark":{"type":"tick","orient":"horizontal","color":"#000000","size":16,"thickness":2}},
{"data":{"name":"lab"},"transform":[{"filter":"datum.ax=='Cl'"}],"mark":{"type":"text","align":"left","baseline":"middle","dx":10,"fontSize":13,"color":"#17979a"},"encoding":{"text":{"field":"t"}}}]},
{"encoding":{"x":{"datum":"SO4","type":"ordinal","axis":null,"scale":{"type":"point","domain":["meqL","Ca","Mg","Na+K","Cl","SO4","HCO3+CO3","NO3","meqR","r1","r2","r3"],"padding":0.6813,"align":0.5407}},"y":{"field":"v","type":"quantitative","axis":null,"scale":{"type":"log","domain":[0.040297,83904],"nice":false}}},"layer":[
{"data":{"name":"tB"},"transform":[{"filter":{"field":"v","range":[0.05,10000]}}],"mark":{"type":"tick","orient":"horizontal","color":"#111111","size":10,"thickness":1.2}},
{"data":{"name":"tD"},"transform":[{"filter":{"field":"v","range":[0.05,10000]}}],"mark":{"type":"tick","orient":"horizontal","color":"#000000","size":16,"thickness":2}},
{"data":{"name":"lab"},"transform":[{"filter":"datum.ax=='SO4'"}],"mark":{"type":"text","align":"left","baseline":"middle","dx":10,"fontSize":13,"color":"#17979a"},"encoding":{"text":{"field":"t"}}}]},
{"encoding":{"x":{"datum":"HCO3+CO3","type":"ordinal","axis":null,"scale":{"type":"point","domain":["meqL","Ca","Mg","Na+K","Cl","SO4","HCO3+CO3","NO3","meqR","r1","r2","r3"],"padding":0.6813,"align":0.5407}},"y":{"field":"v","type":"quantitative","axis":null,"scale":{"type":"log","domain":[0.051197,106596],"nice":false}}},"layer":[
{"data":{"name":"tB"},"transform":[{"filter":{"field":"v","range":[0.07,10000]}}],"mark":{"type":"tick","orient":"horizontal","color":"#111111","size":10,"thickness":1.2}},
{"data":{"name":"tD"},"transform":[{"filter":{"field":"v","range":[0.07,10000]}}],"mark":{"type":"tick","orient":"horizontal","color":"#000000","size":16,"thickness":2}},
{"data":{"name":"lab"},"transform":[{"filter":"datum.ax=='HCO3+CO3'"}],"mark":{"type":"text","align":"left","baseline":"middle","dx":10,"fontSize":13,"color":"#17979a"},"encoding":{"text":{"field":"t"}}}]},
{"encoding":{"x":{"datum":"NO3","type":"ordinal","axis":null,"scale":{"type":"point","domain":["meqL","Ca","Mg","Na+K","Cl","SO4","HCO3+CO3","NO3","meqR","r1","r2","r3"],"padding":0.6813,"align":0.5407}},"y":{"field":"v","type":"quantitative","axis":null,"scale":{"type":"log","domain":[0.052018,108308],"nice":false}}},"layer":[
{"data":{"name":"tB"},"transform":[{"filter":{"field":"v","range":[0.07,10000]}}],"mark":{"type":"tick","orient":"horizontal","color":"#111111","size":10,"thickness":1.2}},
{"data":{"name":"tD"},"transform":[{"filter":{"field":"v","range":[0.07,10000]}}],"mark":{"type":"tick","orient":"horizontal","color":"#000000","size":16,"thickness":2}},
{"data":{"name":"lab"},"transform":[{"filter":"datum.ax=='NO3'"}],"mark":{"type":"text","align":"left","baseline":"middle","dx":10,"fontSize":13,"color":"#17979a"},"encoding":{"text":{"field":"t"}}}]}
]
}
]
}
